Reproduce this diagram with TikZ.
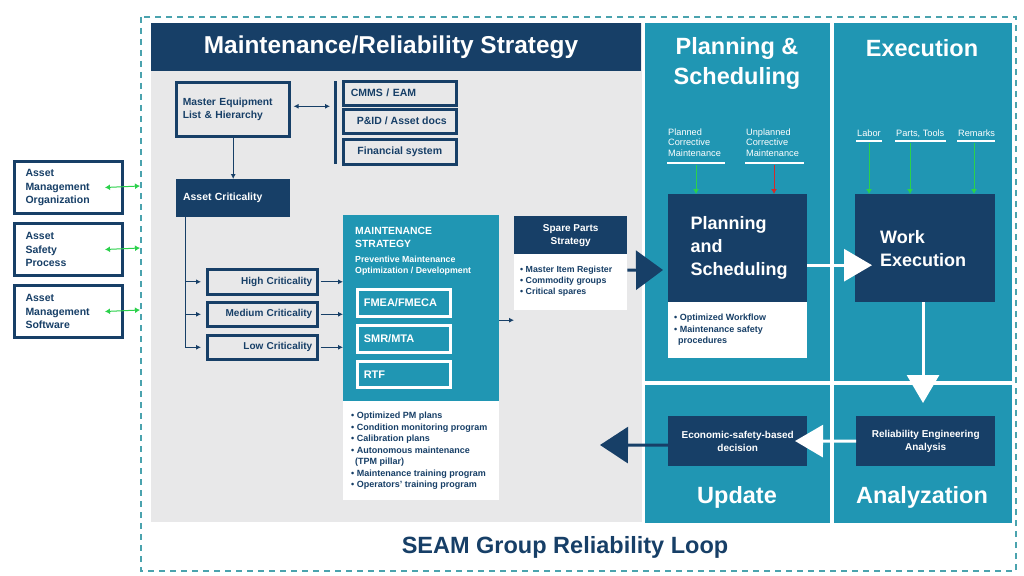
\documentclass[tikz,border=0pt]{standalone}
\usepackage{fontspec}
\setmainfont{Liberation Sans}
\usetikzlibrary{arrows.meta}
\definecolor{navy}{HTML}{173F67}
\definecolor{tealc}{HTML}{2096B3}
\definecolor{panelgray}{HTML}{E8E8E9}
\definecolor{gr}{HTML}{2BD14B}
\definecolor{rd}{HTML}{D42A2A}
\definecolor{dashc}{HTML}{4AA3AE}
\newcommand\fsz[2]{\fontsize{#1}{#2}\selectfont}
\begin{document}
\begin{tikzpicture}[x=1pt,y=-1pt,
  dk/.style={fill=navy, text=white, inner sep=0, anchor=north west},
  ol/.style={draw=navy, line width=2.6pt, fill=white, text=navy, inner sep=0, anchor=north west, font=\bfseries\fsz{10}{12.5}},
  wl/.style={fill=white, inner sep=0, anchor=north west},
  tl/.style={fill=tealc, inner sep=0, anchor=north west},
  wbox/.style={draw=white, line width=2.6pt, fill=tealc, text=white, inner sep=0, anchor=north west, font=\bfseries\fsz{11}{13}},
  lbl/.style={inner sep=0, anchor=north west, align=left},
  sect/.style={inner sep=0, text=white, font=\bfseries\fsz{23.5}{30}, align=center},
  thinar/.style={draw=navy, line width=0.9pt, -{Latex[length=5pt,width=5pt]}},
  gar/.style={draw=gr, line width=1pt, -{Latex[length=5pt,width=6pt]}},
  rar/.style={draw=rd, line width=1pt, -{Latex[length=5pt,width=6pt]}},
  gdbl/.style={draw=gr, line width=1pt, {Latex[length=5pt,width=6pt]}-{Latex[length=5pt,width=6pt]}},
  uline/.style={draw=white, line width=2.4pt},
  bigw/.style={draw=white, line width=3pt, -{Triangle[length=28pt,width=32pt]}},
  bign/.style={draw=navy, line width=3pt, -{Triangle[length=28pt,width=36pt]}},
  smallwhite/.style={lbl, text=white, font=\fsz{9.2}{10.6}},
  bul/.style={lbl, text=navy, font=\bfseries\fsz{9}{11.5}}
]
\useasboundingbox (0,0) rectangle (1024,575);
\fill[white] (0,0) rectangle (1024,575);

% outer dashed frame
\draw[dashc, line width=1.2pt, dash pattern=on 6pt off 5pt] (141,17) rectangle (1016,571);

% panels
\fill[panelgray] (151,23) rectangle (642,522);
\node[dk, minimum width=490, minimum height=48] (hdr) at (151,23) {};
\node[inner sep=0, text=white, font=\bfseries\fsz{24.4}{28}] (hdrt) at (391,47) {Maintenance/Reliability Strategy};
\node[tl, minimum width=185, minimum height=358] (ps) at (645,23) {};
\node[tl, minimum width=178, minimum height=358] (ex) at (834,23) {};
\node[tl, minimum width=185, minimum height=138] (up) at (645,385) {};
\node[tl, minimum width=178, minimum height=138] (an) at (834,385) {};
\node[sect] (pst) at (737,63.5) {Planning \&\\Scheduling};
\node[sect] (ext) at (922,48) {Execution};
\node[sect] (upt) at (737,497) {Update};
\node[sect] (ant) at (922,497) {Analyzation};

% Planning inputs
\node[smallwhite] (pcm) at (668,128.5) {Planned\\Corrective\\Maintenance};
\node[smallwhite] (ucm) at (746,128.5) {Unplanned\\Corrective\\Maintenance};
\draw[uline] (667,163) -- (725,163);
\draw[uline] (745,163) -- (804,163);
\node[smallwhite] (lab) at (857,129.5) {Labor};
\node[smallwhite] (pat) at (896,129.5) {Parts, Tools};
\node[smallwhite] (rem) at (958,129.5) {Remarks};
\draw[uline] (856,141) -- (882,141);
\draw[uline] (895,141) -- (946,141);
\draw[uline] (957,141) -- (995,141);

% Planning and Scheduling box
\node[dk, minimum width=139, minimum height=108, text width=94, align=left, font=\bfseries\fsz{18}{23}] (pas) at (668,194) {Planning\\and\\Scheduling};
\node[wl, minimum width=139, minimum height=56] (pasw) at (668,302) {};
\node[bul] (pasl) at (674,314) {• Optimized Workflow\\• Maintenance safety\\\hspace*{4pt}procedures};

% Work Execution box
\node[dk, minimum width=140, minimum height=108, text width=90, align=left, font=\bfseries\fsz{18}{23}] (we) at (855,194) {Work\\Execution};

% input arrows
\coordinate (pcmA) at (696,165);
\coordinate (ucmA) at (774,165);
\coordinate (labA) at (869,143);
\coordinate (patA) at (910,143);
\coordinate (remA) at (974,143);
\draw[gar] (pcmA) -- (pcmA |- pas.north);
\draw[rar] (ucmA) -- (ucmA |- pas.north);
\draw[gar] (labA) -- (labA |- we.north);
\draw[gar] (patA) -- (patA |- we.north);
\draw[gar] (remA) -- (remA |- we.north);

% Reliability and Economic boxes
\node[dk, minimum width=139, minimum height=50, align=center, font=\bfseries\fsz{10}{13}] (rea) at (856,416) {Reliability Engineering\\Analysis};
\node[dk, minimum width=139, minimum height=50, align=center, font=\bfseries\fsz{10}{13}] (esd) at (668,416) {Economic-safety-based\\decision};

% big arrows
\draw[bigw] ([yshift=-17pt]pas.east) -- ([xshift=17pt,yshift=-17pt]we.west);
\coordinate (downTip) at (923,403);
\draw[bigw] (we.south -| downTip) -- (downTip);
\coordinate (leftTip) at (795,441);
\draw[bigw] (rea.west) -- (leftTip);
\coordinate (updTip) at (600,445);
\draw[bign] ([yshift=-4pt]esd.west) -- (updTip);

% Spare parts
\node[dk, minimum width=113, minimum height=38, align=center, font=\bfseries\fsz{10}{13}] (sp) at (514,216) {Spare Parts\\Strategy};
\node[wl, minimum width=113, minimum height=56] (spw) at (514,254) {};
\node[bul, font=\bfseries\fsz{8.8}{11.2}] (spl) at (520,266) {• Master Item Register\\• Commodity groups\\• Critical spares};
\coordinate (spTip) at (663,270);
\draw[bign, -{Triangle[length=27pt,width=39pt]}] ([yshift=12pt]spw.east) -- (spTip);

% Maintenance strategy
\node[tl, minimum width=156, minimum height=186] (ms) at (343,215) {};
\node[lbl, text=white, font=\bfseries\fsz{10.4}{13}] (mst) at (355,227) {MAINTENANCE\\STRATEGY};
\node[lbl, text=white, font=\bfseries\fsz{8.8}{10.5}] (mss) at (355,256) {Preventive Maintenance\\Optimization / Development};
\node[wbox, minimum width=93, minimum height=27, text width=80, align=left] (fm) at (356,288) {FMEA/FMECA};
\node[wbox, minimum width=93, minimum height=27, text width=80, align=left] (smr) at (356,324) {SMR/MTA};
\node[wbox, minimum width=93, minimum height=26, text width=80, align=left] (rtf) at (356,360) {RTF};
\node[wl, minimum width=156, minimum height=99] (msw) at (343,401) {};
\node[bul] (msl) at (351,412) {• Optimized PM plans\\• Condition monitoring program\\• Calibration plans\\• Autonomous maintenance\\\hspace*{4pt}(TPM pillar)\\• Maintenance training program\\• Operators' training program};
\draw[thinar] ([yshift=-12pt]ms.east) -- ([yshift=-12pt]ms.east -| spw.west);

% Master equipment etc.
\node[ol, fill=panelgray, minimum width=113, minimum height=54, text width=100, align=left, font=\bfseries\fsz{10.3}{13}] (mel) at (175,81) {Master Equipment\\List \& Hierarchy};
\node[fill=navy, inner sep=0, anchor=north west, minimum width=3, minimum height=83] (bar) at (334,81) {};
\node[ol, fill=panelgray, minimum width=113, minimum height=24, text width=98, align=left, font=\bfseries\fsz{10.5}{12}] (cmms) at (342,80) {CMMS / EAM};
\node[ol, fill=panelgray, minimum width=113, minimum height=24, font=\bfseries\fsz{10.5}{12}] (pid) at (342,108) {\hspace*{4pt}P\&ID / Asset docs};
\node[ol, fill=panelgray, minimum width=113, minimum height=25, font=\bfseries\fsz{10.5}{12}] (fin) at (342,138) {Financial system};
\draw[draw=navy, line width=0.9pt, {Latex[length=5pt,width=5pt]}-{Latex[length=5pt,width=5pt]}] ([xshift=3pt,yshift=3pt]mel.east) -- ([xshift=-4pt,yshift=3pt]mel.east -| bar.west);

\node[dk, minimum width=114, minimum height=38, text width=100, align=left, font=\bfseries\fsz{10.4}{13}] (ac) at (176,179) {Asset Criticality};
\draw[thinar] (ac.north |- mel.south) -- (ac.north);

\node[ol, fill=panelgray, minimum width=110, minimum height=25, text width=100, align=right] (hc) at (206,268) {High Criticality};
\node[ol, fill=panelgray, minimum width=110, minimum height=24, text width=100, align=right] (mc) at (206,301) {Medium Criticality};
\node[ol, fill=panelgray, minimum width=110, minimum height=24, text width=100, align=right] (lc) at (206,334) {Low Criticality};
\draw[draw=navy, line width=0.9pt] ([xshift=9pt]ac.south west) -- ([xshift=9pt]ac.south west |- lc.west);
\draw[thinar, shorten >=5pt] ([xshift=9pt]ac.south west |- hc.west) -- (hc.west);
\draw[thinar, shorten >=5pt] ([xshift=9pt]ac.south west |- mc.west) -- (mc.west);
\draw[thinar, shorten >=5pt] ([xshift=9pt]ac.south west |- lc.west) -- (lc.west);
\draw[thinar, shorten <=2pt] (hc.east) -- (hc.east -| ms.west);
\draw[thinar, shorten <=2pt] (mc.east) -- (mc.east -| ms.west);
\draw[thinar, shorten <=2pt] (lc.east) -- (lc.east -| ms.west);

% left boxes
\node[ol, line width=3pt, minimum width=108, minimum height=52, text width=86, align=left, font=\bfseries\fsz{10.5}{13.5}] (amo) at (13,160) {Asset\\Management\\Organization};
\node[ol, line width=3pt, minimum width=108, minimum height=52, text width=86, align=left, font=\bfseries\fsz{10.5}{13.5}] (asp) at (13,222) {Asset\\Safety\\Process};
\node[ol, line width=3pt, minimum width=108, minimum height=52, text width=86, align=left, font=\bfseries\fsz{10.5}{13.5}] (ams) at (13,284) {Asset\\Management\\Software};
\coordinate (amoE) at (140,186);
\coordinate (aspE) at (140,248);
\coordinate (amsE) at (140,310);
\draw[gdbl] ([xshift=-19pt]amo.east) -- (amoE);
\draw[gdbl] ([xshift=-19pt]asp.east) -- (aspE);
\draw[gdbl] ([xshift=-19pt]ams.east) -- (amsE);

% bottom title
\node[inner sep=0, text=navy, font=\bfseries\fsz{23.5}{28}] (title) at (565,547) {SEAM Group Reliability Loop};
\end{tikzpicture}
\end{document}
